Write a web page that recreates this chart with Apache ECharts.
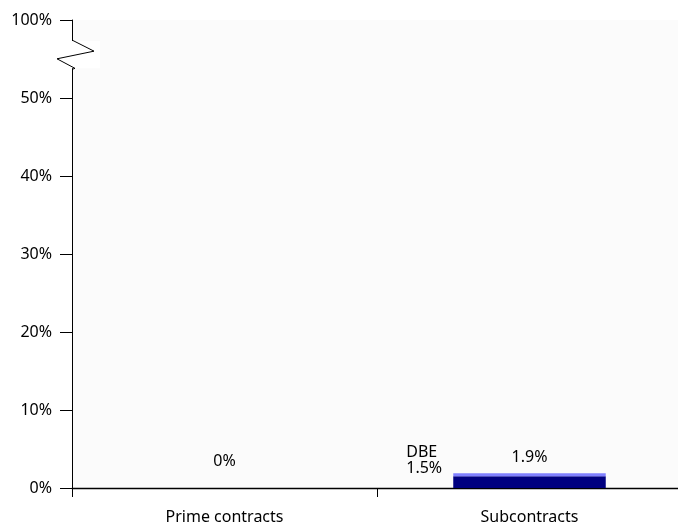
<!DOCTYPE html>
<html>
<head>
<meta charset="utf-8">
<script src="https://cdn.jsdelivr.net/npm/echarts@6/dist/echarts.min.js"></script>
<style>
  html, body { margin: 0; padding: 0; background: #ffffff; }
  #chart { width: 678px; height: 525px; }
</style>
</head>
<body>
<div id="chart"></div>
<script>
// Contract categories and utilisation shares (%)
const categories = ['Prime contracts', 'Subcontracts'];
const totalShare = [0, 1.9];   // overall share shown above each bar
const dbeShare = [0, 1.5];     // DBE portion of the share

// The axis runs 0–50% linearly, then jumps to 100% above a break
const axisTop = 60;
const breakLabelValue = 100;

const FONT = 'Noto Sans';
const FS = 16;
const gridLeft = 72;

const chart = echarts.init(document.getElementById('chart'), null, { renderer: 'canvas' });

const upperPart = totalShare.map((t, i) => +(t - dbeShare[i]).toFixed(2));

const option = {
  animation: false,
  backgroundColor: '#ffffff',
  textStyle: { fontFamily: FONT },
  grid: {
    left: gridLeft, width: 610, top: 20, bottom: 37,
    outerBoundsMode: 'none',
    containLabel: false,
    show: true, backgroundColor: '#fbfbfb', borderWidth: 0
  },
  xAxis: {
    type: 'category',
    data: categories,
    boundaryGap: true,
    axisLine: { lineStyle: { color: '#000', width: 1.3 } },
    axisTick: { show: true, length: 9, lineStyle: { color: '#000' } },
    axisLabel: { color: '#000', fontSize: FS, fontFamily: FONT, margin: 21 }
  },
  yAxis: {
    type: 'value',
    min: 0, max: axisTop, interval: 10,
    axisLine: { show: true, lineStyle: { color: '#000', width: 1 } },
    axisTick: { show: true, length: 12, lineStyle: { color: '#000' } },
    splitLine: { show: false },
    axisLabel: {
      color: '#000', fontSize: FS, fontFamily: FONT, margin: 20,
      formatter: v => (v === axisTop ? breakLabelValue : v) + '%'
    }
  },
  series: [
    {
      name: 'DBE',
      type: 'bar',
      stack: 'share',
      barWidth: '50%',
      itemStyle: { color: '#000080' },
      data: dbeShare.map((v, i) => ({
        value: v,
        label: {
          show: i === 1,
          position: [-47, -32],
          align: 'left',
          verticalAlign: 'top',
          lineHeight: 16,
          fontSize: FS,
          fontFamily: FONT,
          color: '#000',
          formatter: () => 'DBE\n' + dbeShare[i] + '%'
        }
      }))
    },
    {
      name: 'Total',
      type: 'bar',
      stack: 'share',
      barWidth: '50%',
      itemStyle: { color: '#8080ff' },
      data: upperPart.map((v, i) => ({
        value: v,
        label: {
          show: true,
          position: 'top',
          distance: i === 0 ? 19 : 8,
          fontSize: FS,
          fontFamily: FONT,
          color: '#000',
          formatter: () => totalShare[i] + '%'
        }
      }))
    }
  ]
};

chart.setOption(option);

// Break marker on the value axis between 50% and 100%
const yA = chart.convertToPixel({ yAxisIndex: 0 }, 57.3);
const yB = chart.convertToPixel({ yAxisIndex: 0 }, 53.8);
const yM1 = yA + (yB - yA) * 0.37;
const yM2 = yA + (yB - yA) * 0.65;
chart.setOption({
  graphic: [
    {
      type: 'rect',
      shape: { x: gridLeft - 26, y: yA, width: 54, height: yB - yA },
      style: { fill: '#ffffff' },
      z: 100
    },
    {
      type: 'polyline',
      shape: {
        points: [
          [gridLeft, yA - 1],
          [gridLeft + 22, yM1],
          [gridLeft - 15, yM2],
          [gridLeft + 3, yB],
          [gridLeft, yB + 1]
        ]
      },
      style: { stroke: '#000', lineWidth: 1, fill: null },
      z: 101
    }
  ]
});
</script>
</body>
</html>
